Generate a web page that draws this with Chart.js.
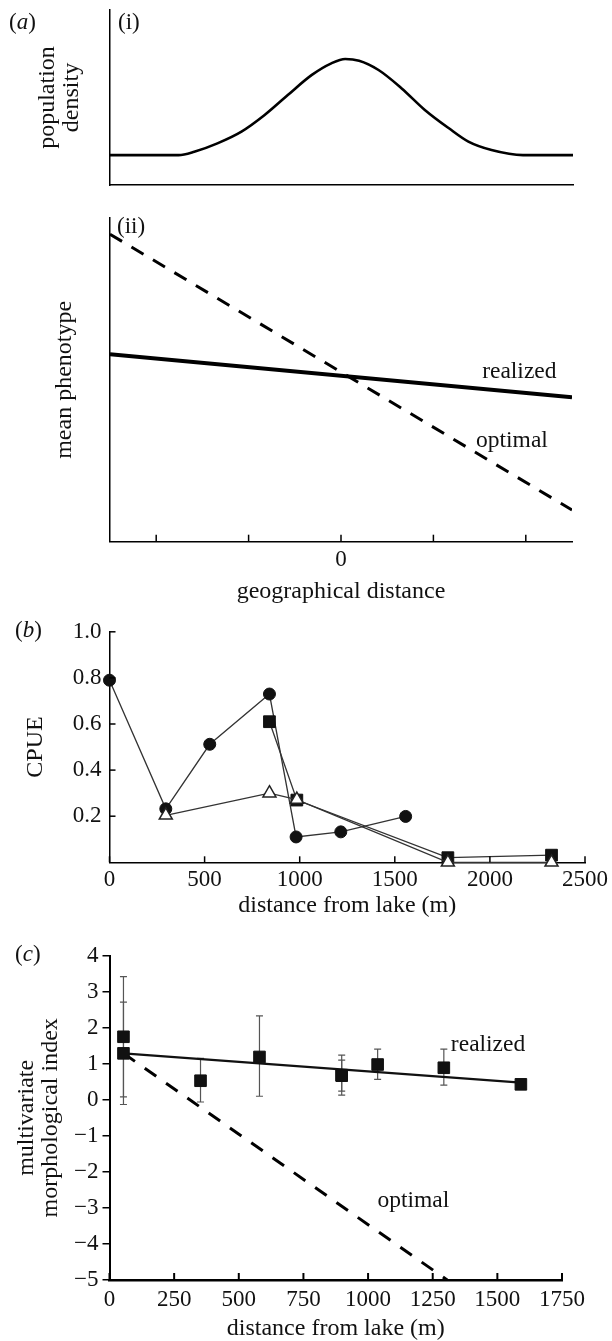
<!DOCTYPE html>
<html lang="en">
<head>
  <meta charset="UTF-8" />
  <title>Density, phenotype and CPUE along the stream</title>
  <script src="https://cdn.jsdelivr.net/npm/chart.js"></script>
  <style>
    body {
      margin: 0;
      background: #fff;
      width: 612px;
      height: 1341px;
      position: relative;
      overflow: hidden;
      font-family: 'Liberation Serif', 'Times New Roman', serif;
    }
    canvas {
      position: absolute;
      left: 0;
    }
    .tag {
      position: absolute;
      font-size: 23px;
      line-height: 1;
      color: #111;
      white-space: nowrap;
    }
  </style>
</head>
<body>

  <canvas id="densityChart" width="612" height="200" style="top:0"></canvas>
  <canvas id="phenotypeChart" width="612" height="410" style="top:200px"></canvas>
  <canvas id="cpueChart" width="612" height="320" style="top:610px"></canvas>
  <canvas id="morphChart" width="612" height="406" style="top:935px"></canvas>

  <div class="tag" style="left:9px;top:10px">(<i>a</i>)</div>
  <div class="tag" style="left:118px;top:10px">(i)</div>
  <div class="tag" style="left:117px;top:214px">(ii)</div>
  <div class="tag" style="left:15px;top:618px">(<i>b</i>)</div>
  <div class="tag" style="left:15px;top:942px">(<i>c</i>)</div>

  <script>
    // (a)(i) population density along the cline
    const densityX = [-2.5, -1.76, -1.59, -1.34, -1.08, -0.83, -0.58, -0.32, -0.11, 0.04, 0.19, 0.40, 0.65, 0.90, 1.16, 1.37, 1.62, 1.96, 2.5];
    const densityY = [1.71, 1.71, 1.90, 2.38, 3.05, 4.0, 5.14, 6.29, 6.95, 7.2, 7.10, 6.57, 5.52, 4.29, 3.24, 2.48, 2.0, 1.71, 1.71];

    // (a)(ii) mean phenotype
    const geoTicks = [-2, -1, 0, 1, 2];
    const geoTickLabels = ['', '', '0', '', ''];
    const realizedX = [-2.5, 2.5];
    const realizedY = [5.79, 4.46];
    const optimalX = [-2.5, 2.5];
    const optimalY = [9.5, 0.98];

    // (b) CPUE against distance from lake
    const circleDist = [0, 296, 527, 841, 981, 1216, 1557];
    const circleCpue = [0.79, 0.232, 0.512, 0.73, 0.11, 0.132, 0.199];
    const squareDist = [841, 985, 1779, 2324];
    const squareCpue = [0.61, 0.27, 0.02, 0.031];
    const triangleDist = [296, 841, 985, 1779, 2324];
    const triangleCpue = [0.204, 0.30, 0.272, 0.0, 0.0];
    const bXTicks = [0, 500, 1000, 1500, 2000, 2500];
    const bXLabels = ['0', '500', '1000', '1500', '2000', '2500'];
    const bYTicks = [0.2, 0.4, 0.6, 0.8, 1.0];
    const bYLabels = ['0.2', '0.4', '0.6', '0.8', '1.0'];

    // (c) multivariate morphological index
    const morphDist = [54, 54, 352, 580, 898, 898, 1037, 1293, 1591];
    const morphMean = [1.75, 1.29, 0.53, 1.19, 0.685, 0.67, 0.98, 0.89, 0.43];
    const morphLow = [0.08, -0.13, -0.06, 0.10, 0.13, 0.24, 0.57, 0.41, null];
    const morphHigh = [3.42, 2.71, 1.15, 2.33, 1.24, 1.10, 1.41, 1.41, null];
    const fitRealizedX = [54, 1591];
    const fitRealizedY = [1.29, 0.48];
    const fitOptimalX = [54, 1306];
    const fitOptimalY = [1.29, -5];
    const cXTicks = [0, 250, 500, 750, 1000, 1250, 1500, 1750];
    const cXLabels = ['0', '250', '500', '750', '1000', '1250', '1500', '1750'];
    const cYTicks = [-5, -4, -3, -2, -1, 0, 1, 2, 3, 4];
    const cYLabels = ['−5', '−4', '−3', '−2', '−1', '0', '1', '2', '3', '4'];

    Chart.defaults.font.family = "'Liberation Serif', 'Times New Roman', serif";
    Chart.defaults.font.size = 23;
    Chart.defaults.color = '#111';

    const pts = (xs, ys) => xs.map((x, i) => ({ x, y: ys[i] }));
    const titleFont = { size: 24, lineHeight: 1 };
    const axisBorder = { color: '#000', width: 1.5 };

    // short tick marks pointing into the plot
    const innerTicks = {
      id: 'innerTicks',
      afterDraw(chart, args, opts) {
        const ctx = chart.ctx, a = chart.chartArea;
        ctx.save();
        ctx.strokeStyle = '#000';
        ctx.lineWidth = opts.width || 1.5;
        (opts.axes || []).forEach(id => {
          const s = chart.scales[id];
          s.ticks.forEach(t => {
            const p = s.getPixelForValue(t.value);
            ctx.beginPath();
            if (s.isHorizontal()) {
              ctx.moveTo(p, a.bottom);
              ctx.lineTo(p, a.bottom - opts.len);
            } else {
              ctx.moveTo(a.left, p);
              ctx.lineTo(a.left + opts.len, p);
            }
            ctx.stroke();
          });
        });
        ctx.restore();
      }
    };

    // text placed in data coordinates
    const notes = {
      id: 'notes',
      afterDatasetsDraw(chart, args, opts) {
        const ctx = chart.ctx;
        ctx.save();
        ctx.font = "23.5px 'Liberation Serif', 'Times New Roman', serif";
        ctx.fillStyle = '#111';
        ctx.textAlign = 'center';
        ctx.textBaseline = 'middle';
        (opts.items || []).forEach(n => {
          ctx.fillText(n.text, chart.scales.x.getPixelForValue(n.x), chart.scales.y.getPixelForValue(n.y));
        });
        ctx.restore();
      }
    };

    // vertical error bars with caps
    const errorBars = {
      id: 'errorBars',
      beforeDatasetsDraw(chart) {
        const ctx = chart.ctx, xs = chart.scales.x, ys = chart.scales.y;
        ctx.save();
        ctx.strokeStyle = '#555';
        ctx.lineWidth = 1.2;
        morphDist.forEach((d, i) => {
          if (morphLow[i] === null) return;
          const x = xs.getPixelForValue(d);
          const y1 = ys.getPixelForValue(morphLow[i]);
          const y2 = ys.getPixelForValue(morphHigh[i]);
          ctx.beginPath();
          ctx.moveTo(x, y1); ctx.lineTo(x, y2);
          ctx.moveTo(x - 3.5, y1); ctx.lineTo(x + 3.5, y1);
          ctx.moveTo(x - 3.5, y2); ctx.lineTo(x + 3.5, y2);
          ctx.stroke();
        });
        ctx.restore();
      }
    };

    // (a)(i)
    new Chart(document.getElementById('densityChart'), {
      type: 'line',
      data: {
        datasets: [{
          data: pts(densityX, densityY),
          borderColor: '#000',
          borderWidth: 2.6,
          pointRadius: 0,
          cubicInterpolationMode: 'monotone',
          fill: false
        }]
      },
      options: {
        responsive: false,
        animation: false,
        events: [],
        layout: { padding: { top: 10, right: 39, bottom: 15, left: 0 } },
        plugins: { legend: { display: false }, tooltip: { enabled: false } },
        scales: {
          x: {
            type: 'linear', min: -2.5, max: 2.5,
            ticks: { display: false },
            grid: { display: false, drawTicks: false },
            border: axisBorder,
            afterFit: s => { s.height = 0; }
          },
          y: {
            min: 0, max: 10,
            ticks: { display: false },
            grid: { display: false, drawTicks: false },
            border: axisBorder,
            title: { display: true, text: ['population', 'density'], font: titleFont, padding: { top: 35.5, bottom: 0 } },
            afterFit: s => { s.width = 110; }
          }
        }
      }
    });

    // (a)(ii)
    new Chart(document.getElementById('phenotypeChart'), {
      type: 'line',
      data: {
        datasets: [
          { data: pts(realizedX, realizedY), borderColor: '#000', borderWidth: 4, pointRadius: 0 },
          { data: pts(optimalX, optimalY), borderColor: '#000', borderWidth: 3, borderDash: [14, 11], pointRadius: 0 }
        ]
      },
      options: {
        responsive: false,
        animation: false,
        events: [],
        layout: { padding: { top: 18, right: 40, bottom: 0, left: 0 } },
        plugins: {
          legend: { display: false },
          tooltip: { enabled: false },
          innerTicks: { axes: ['x'], len: 7 },
          notes: { items: [{ text: 'realized', x: 1.93, y: 5.25 }, { text: 'optimal', x: 1.85, y: 3.12 }] }
        },
        scales: {
          x: {
            type: 'linear', min: -2.5, max: 2.5,
            afterBuildTicks: s => { s.ticks = geoTicks.map(v => ({ value: v })); },
            ticks: { padding: 4.5, maxRotation: 0, autoSkip: false, callback: (v, i) => geoTickLabels[i] },
            grid: { display: false, drawTicks: false },
            border: axisBorder,
            title: { display: true, text: 'geographical distance', font: titleFont, padding: { top: 0, bottom: 6 } },
            afterFit: s => { s.height = 68.3; }
          },
          y: {
            min: 0, max: 10,
            ticks: { display: false },
            grid: { display: false, drawTicks: false },
            border: axisBorder,
            title: { display: true, text: 'mean phenotype', font: titleFont, padding: { top: 53, bottom: 0 } },
            afterFit: s => { s.width = 110; }
          }
        }
      },
      plugins: [innerTicks, notes]
    });

    // (b)
    const lineGrey = '#333';
    new Chart(document.getElementById('cpueChart'), {
      type: 'line',
      data: {
        datasets: [
          {
            data: pts(triangleDist, triangleCpue),
            borderColor: lineGrey, borderWidth: 1.3,
            pointStyle: 'triangle', pointRadius: 7.5,
            pointBackgroundColor: '#fff', pointBorderColor: '#222', pointBorderWidth: 1.5,
            clip: false
          },
          {
            data: pts(squareDist, squareCpue),
            borderColor: lineGrey, borderWidth: 1.3,
            pointStyle: 'rect', pointRadius: 8.3,
            pointBackgroundColor: '#111', pointBorderColor: '#111', pointBorderWidth: 1,
            clip: false
          },
          {
            data: pts(circleDist, circleCpue),
            borderColor: lineGrey, borderWidth: 1.3,
            pointStyle: 'circle', pointRadius: 6,
            pointBackgroundColor: '#111', pointBorderColor: '#111', pointBorderWidth: 1,
            clip: false
          }
        ]
      },
      options: {
        responsive: false,
        animation: false,
        events: [],
        layout: { padding: { top: 20, right: 25, bottom: 0, left: 0 } },
        plugins: {
          legend: { display: false },
          tooltip: { enabled: false },
          innerTicks: { axes: ['x', 'y'], len: 6 }
        },
        scales: {
          x: {
            type: 'linear', min: 0, max: 2500,
            afterBuildTicks: s => { s.ticks = bXTicks.map(v => ({ value: v })); },
            ticks: { padding: 4, maxRotation: 0, autoSkip: false, callback: (v, i) => bXLabels[i] },
            grid: { display: false, drawTicks: false },
            border: axisBorder,
            title: { display: true, text: 'distance from lake (m)', font: titleFont, padding: { top: 0, bottom: 12 } },
            afterFit: s => { s.height = 67.7; }
          },
          y: {
            min: 0, max: 1,
            afterBuildTicks: s => { s.ticks = bYTicks.map(v => ({ value: v })); },
            ticks: { padding: 8, autoSkip: false, callback: (v, i) => bYLabels[i] },
            grid: { display: false, drawTicks: false },
            border: axisBorder,
            title: { display: true, text: 'CPUE', font: titleFont, padding: { top: 23.5, bottom: 0 } },
            afterFit: s => { s.width = 109.5; }
          }
        }
      },
      plugins: [innerTicks]
    });

    // (c)
    new Chart(document.getElementById('morphChart'), {
      type: 'line',
      data: {
        datasets: [
          {
            data: pts(morphDist, morphMean),
            showLine: false,
            pointStyle: 'rect', pointRadius: 8.2,
            pointBackgroundColor: '#111', pointBorderColor: '#111', pointBorderWidth: 1,
            clip: false
          },
          { data: pts(fitRealizedX, fitRealizedY), borderColor: '#111', borderWidth: 2.2, pointRadius: 0 },
          { data: pts(fitOptimalX, fitOptimalY), borderColor: '#000', borderWidth: 3, borderDash: [14, 12], pointRadius: 0 }
        ]
      },
      options: {
        responsive: false,
        animation: false,
        events: [],
        layout: { padding: { top: 20.7, right: 50, bottom: 0, left: 0 } },
        plugins: {
          legend: { display: false },
          tooltip: { enabled: false },
          innerTicks: { axes: ['x'], len: 7, width: 2 },
          notes: { items: [{ text: 'realized', x: 1464, y: 1.52 }, { text: 'optimal', x: 1175, y: -2.79 }] }
        },
        scales: {
          x: {
            type: 'linear', min: 0, max: 1750,
            afterBuildTicks: s => { s.ticks = cXTicks.map(v => ({ value: v })); },
            ticks: { padding: 6, maxRotation: 0, autoSkip: false, callback: (v, i) => cXLabels[i] },
            grid: { display: false, drawTicks: false },
            border: { color: '#000', width: 2.5 },
            title: { display: true, text: 'distance from lake (m)', font: titleFont, padding: { top: 0, bottom: 0 } },
            afterFit: s => { s.height = 61; }
          },
          y: {
            min: -5, max: 4,
            afterBuildTicks: s => { s.ticks = cYTicks.map(v => ({ value: v })); },
            ticks: { padding: 4, autoSkip: false, callback: (v, i) => cYLabels[i] },
            grid: { display: true, drawOnChartArea: false, drawTicks: true, tickLength: 7, color: '#000', lineWidth: 1.5 },
            border: { color: '#000', width: 2 },
            title: { display: true, text: ['multivariate', 'morphological index'], font: titleFont, padding: { top: 15, bottom: 0 } },
            afterFit: s => { s.width = 109.5; }
          }
        }
      },
      plugins: [innerTicks, notes, errorBars]
    });
  </script>

</body>
</html>
